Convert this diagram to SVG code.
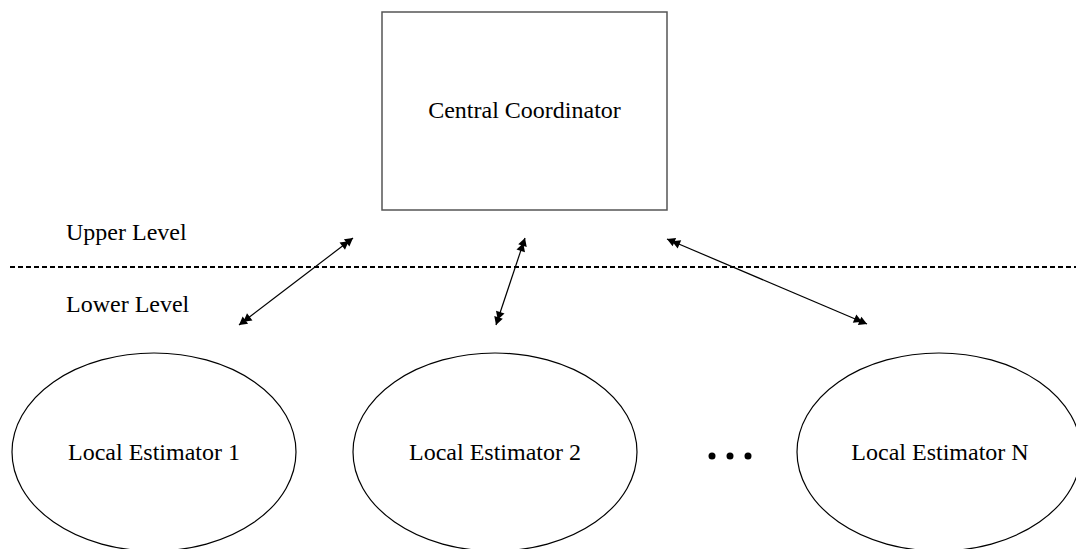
<svg xmlns="http://www.w3.org/2000/svg" width="1076" height="549" viewBox="0 0 1076 549">
<style>
.t{font-family:"Liberation Serif","Times New Roman",serif;font-size:24px;fill:#000}
.node{fill:#fff;stroke:#000;stroke-width:1.2}
.conn{stroke:#000;stroke-width:1.2;fill:none}
</style>
<defs>
<marker id="dbl" viewBox="0 0 16 12" refX="15" refY="6" markerWidth="16" markerHeight="12" markerUnits="userSpaceOnUse" orient="auto-start-reverse">
<path d="M15,6 L7,1.5 L7,10.5 Z M9.5,6 L1.5,1.5 L1.5,10.5 Z" fill="#000"/>
</marker>
</defs>
<rect width="1076" height="549" fill="#fff"/>
<g id="coordinator">
<rect x="382" y="12" width="285" height="198" fill="#fff" stroke="#555" stroke-width="1.5"/>
<text class="t" x="524.5" y="118" text-anchor="middle">Central Coordinator</text>
</g>
<g id="levels">
<line x1="10" y1="267" x2="1076" y2="267" stroke="#000" stroke-width="2" stroke-dasharray="5,3"/>
<text class="t" x="66" y="240">Upper Level</text>
<text class="t" x="66" y="312">Lower Level</text>
</g>
<g id="est1">
<ellipse class="node" cx="154" cy="452" rx="142" ry="99"/>
<text class="t" x="154" y="460" text-anchor="middle">Local Estimator 1</text>
</g>
<g id="est2">
<ellipse class="node" cx="495" cy="452" rx="142" ry="99"/>
<text class="t" x="495" y="460" text-anchor="middle">Local Estimator 2</text>
</g>
<g id="estN">
<ellipse class="node" cx="939" cy="452" rx="142" ry="99"/>
<text class="t" x="940" y="460" text-anchor="middle">Local Estimator N</text>
</g>
<g id="dots">
<circle cx="712" cy="456" r="3.5" fill="#000"/>
<circle cx="730" cy="456" r="3.5" fill="#000"/>
<circle cx="748" cy="456" r="3.5" fill="#000"/>
</g>
<g id="connectors">
<line class="conn" x1="239" y1="325" x2="353" y2="238" marker-start="url(#dbl)" marker-end="url(#dbl)"/>
<line class="conn" x1="496" y1="325" x2="525" y2="238" marker-start="url(#dbl)" marker-end="url(#dbl)"/>
<line class="conn" x1="867" y1="324" x2="667" y2="239" marker-start="url(#dbl)" marker-end="url(#dbl)"/>
</g>
</svg>
